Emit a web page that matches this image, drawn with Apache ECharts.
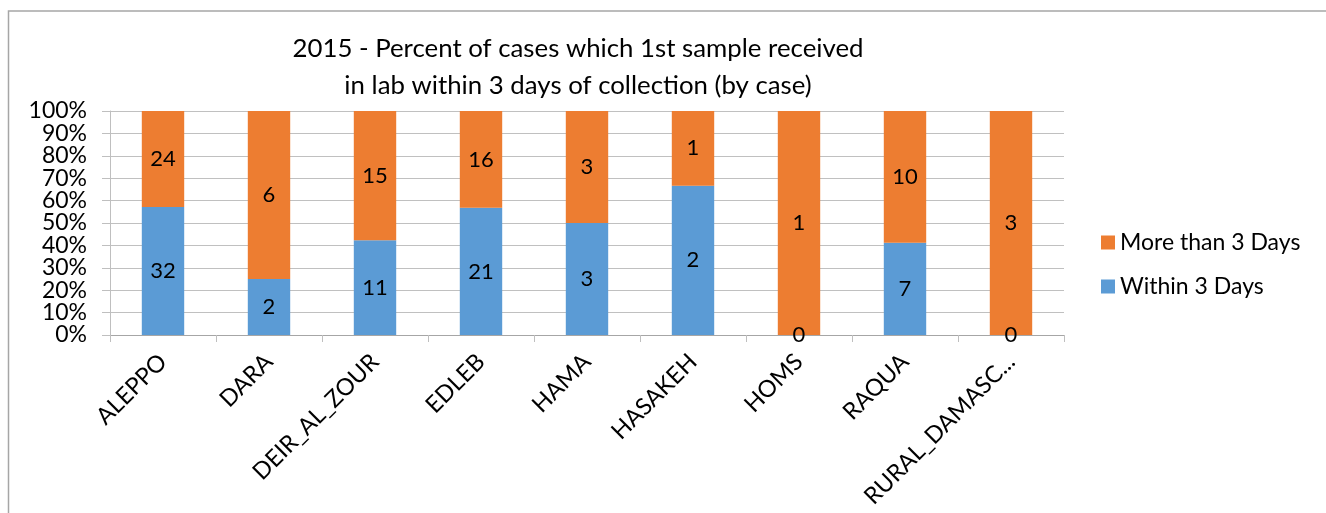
<!DOCTYPE html>
<html>
<head>
<meta charset="utf-8">
<script src="https://cdn.jsdelivr.net/npm/echarts@6/dist/echarts.min.js"></script>
<style>
html,body{margin:0;padding:0;background:#fff;}
#chart{width:1326px;height:513px;}
</style>
</head>
<body>
<div id="chart"></div>
<script>
const categories = ["ALEPPO","DARA","DEIR_AL_ZOUR","EDLEB","HAMA","HASAKEH","HOMS","RAQUA","RURAL_DAMASC..."];
const withinCounts = [32, 2, 11, 21, 3, 2, 0, 7, 0];
const moreCounts = [24, 6, 15, 16, 3, 1, 1, 10, 3];
const yTickLabels = ["0%","10%","20%","30%","40%","50%","60%","70%","80%","90%","100%"];
const titleLines = ["2015 - Percent of cases which 1st sample received", "in lab within 3 days of collection (by case)"];

const FONT = 'Lato';
function pct(counts, i){ const t = withinCounts[i] + moreCounts[i]; return t ? counts[i] / t * 100 : 0; }
const withinData = withinCounts.map((c,i)=>({value: pct(withinCounts,i), count: c}));
const moreData = moreCounts.map((c,i)=>({value: pct(moreCounts,i), count: c}));

const chart = echarts.init(document.getElementById('chart'));
const labelStyle = {
  show: true, position: 'inside', color: '#000', fontFamily: FONT, fontSize: 22,
  formatter: p => String(p.data.count)
};
chart.setOption({
  animation: false,
  graphic: [{
    type: 'rect', left: 6, top: 8.5, shape: {x:0, y:0, width: 1400, height: 600},
    style: {fill: 'none', stroke: '#a6a6a6', lineWidth: 1.5}, silent: true, z: -10
  }],
  title: {
    text: titleLines.join('\n'),
    left: 573, top: 25, textAlign: 'center',
    textStyle: {fontFamily: FONT, fontSize: 25.8, fontWeight: 'normal', color: '#000', lineHeight: 37}
  },
  legend: {
    orient: 'vertical', left: 1096, top: 226, itemGap: 21, itemWidth: 14, itemHeight: 14,
    icon: 'rect', data: ['More than 3 Days', 'Within 3 Days'],
    textStyle: {fontFamily: FONT, fontSize: 23, color: '#000', padding: [0,0,0,0]}
  },
  grid: {left: 110, right: 262, top: 111, bottom: 178},
  xAxis: {
    type: 'category', data: categories,
    axisLine: {lineStyle: {color: '#a6a6a6', width: 1}},
    axisTick: {show: true, length: 7, lineStyle: {color: '#bfbfbf'}},
    axisLabel: {rotate: 45, margin: 23, color: '#000', fontFamily: FONT, fontSize: 23.5, interval: 0}
  },
  yAxis: [{
    type: 'value', min: 0, max: 100, interval: 10,
    axisLine: {show: true, lineStyle: {color: '#bfbfbf'}},
    axisTick: {show: true, length: 8, lineStyle: {color: '#bfbfbf'}},
    splitLine: {lineStyle: {color: '#c0c0c0'}},
    axisLabel: {show: false}
  }, {
    type: 'category', data: yTickLabels, boundaryGap: false, position: 'left',
    axisLine: {show: false}, axisTick: {show: false}, splitLine: {show: false},
    axisLabel: {interval: 0, margin: 23, color: '#000', fontFamily: FONT, fontSize: 23}
  }],
  series: [
    {name: 'Within 3 Days', type: 'bar', stack: 'total', barWidth: '40%', data: withinData, yAxisIndex: 0,
     itemStyle: {color: '#5B9BD5'}, label: labelStyle},
    {name: 'More than 3 Days', type: 'bar', stack: 'total', barWidth: '40%', data: moreData, yAxisIndex: 0,
     itemStyle: {color: '#ED7D31'}, label: labelStyle}
  ]
});
</script>
</body>
</html>
